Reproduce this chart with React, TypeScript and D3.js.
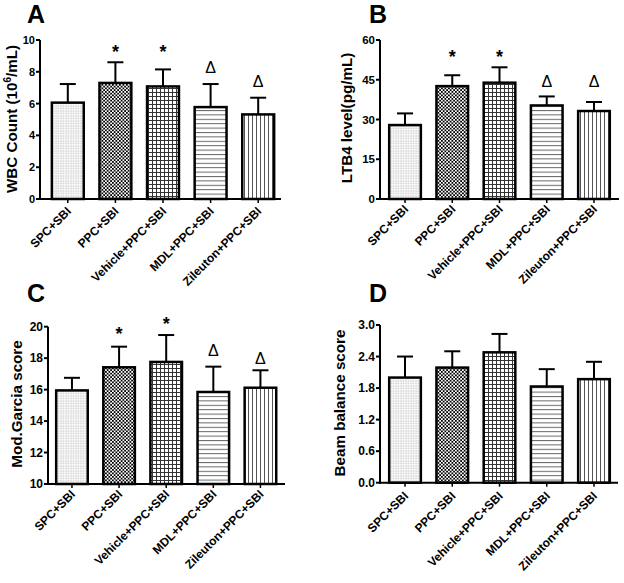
import React from "react";
import * as d3 from "d3";

const categories = ["SPC+SBI", "PPC+SBI", "Vehicle+PPC+SBI", "MDL+PPC+SBI", "Zileuton+PPC+SBI"];

const wbcMean = [6.06, 7.3, 7.08, 5.78, 5.32];
const wbcErr = [1.17, 1.3, 1.07, 1.45, 1.05];
const wbcTicks = [0, 2, 4, 6, 8, 10];
const wbcMarks = ["", "*", "*", "Δ", "Δ"];
const wbcMarkY = [0, 9.5, 9.5, 8.3, 7.4];

const ltb4Mean = [27.9, 42.6, 43.9, 35.3, 33.2];
const ltb4Err = [4.4, 4.1, 5.8, 3.4, 3.4];
const ltb4Ticks = [0, 15, 30, 45, 60];
const ltb4Marks = ["", "*", "*", "Δ", "Δ"];
const ltb4MarkY = [0, 55.1, 55.1, 44.2, 44.2];

const garciaMean = [15.95, 17.42, 17.76, 15.85, 16.12];
const garciaErr = [0.8, 1.31, 1.71, 1.61, 1.11];
const garciaTicks = [10, 12, 14, 16, 18, 20];
const garciaMarks = ["", "*", "*", "Δ", "Δ"];
const garciaMarkY = [0, 19.8, 20.4, 18.5, 17.95];

const beamMean = [2.0, 2.19, 2.48, 1.83, 1.97];
const beamErr = [0.4, 0.31, 0.35, 0.33, 0.33];
const beamTicks = [0, 0.6, 1.2, 1.8, 2.4, 3.0];
const beamMarks = ["", "", "", "", ""];
const beamMarkY = [0, 0, 0, 0, 0];

const patternIds = ["pDots", "pChecker", "pGrid", "pHoriz", "pVert"];
const FONT = "'Liberation Sans', Arial, sans-serif";

type PanelProps = {
  letter: string;
  letterX: number;
  letterY: number;
  x0: number;
  x1: number;
  bandStart: number;
  bandEnd: number;
  yTop: number;
  yBot: number;
  domain: [number, number];
  ticks: number[];
  tickFmt: (v: number) => string;
  tickSize: number;
  mean: number[];
  err: number[];
  marks: string[];
  markY: number[];
  title: React.ReactNode;
  titleX: number;
  titleY: number;
  labelDy: number;
};

function Panel(p: PanelProps) {
  const x = d3.scaleBand<string>().domain(categories).range([p.bandStart, p.bandEnd]).paddingInner(0.33).paddingOuter(0.165);
  const y = d3.scaleLinear().domain(p.domain).range([p.yBot, p.yTop]);
  const bw = x.bandwidth();
  return (
    <g>
      <text x={p.letterX} y={p.letterY} fontSize={25} fontWeight="bold" fontFamily={FONT}>{p.letter}</text>
      {categories.map((c, i) => {
        const bx = x(c)!;
        const cx = bx + bw / 2;
        const top = y(p.mean[i]);
        const et = y(p.mean[i] + p.err[i]);
        return (
          <g key={c}>
            <line x1={cx} x2={cx} y1={top} y2={et} stroke="#000" strokeWidth={2} />
            <line x1={cx - 8} x2={cx + 8} y1={et} y2={et} stroke="#000" strokeWidth={2} />
            <rect x={bx} y={top} width={bw} height={p.yBot - top} fill={`url(#${patternIds[i]})`} stroke="#000" strokeWidth={2.5} />
            {p.marks[i] === "*" && (
              <text x={cx} y={y(p.markY[i]) + 10} textAnchor="middle" fontSize={18} fontWeight="bold" fontFamily={FONT}>*</text>
            )}
            {p.marks[i] === "Δ" && (
              <text x={cx} y={y(p.markY[i]) + 5.5} textAnchor="middle" fontSize={16} fontFamily={FONT}>Δ</text>
            )}
          </g>
        );
      })}
      <line x1={p.x0} x2={p.x0} y1={p.yTop} y2={p.yBot + 1} stroke="#000" strokeWidth={2} />
      <line x1={p.x0 - 1} x2={p.x1} y1={p.yBot} y2={p.yBot} stroke="#000" strokeWidth={2} />
      {p.ticks.map((t) => (
        <g key={t}>
          <line x1={p.x0 - 4} x2={p.x0} y1={y(t)} y2={y(t)} stroke="#000" strokeWidth={2} />
          <text x={p.x0 - 5} y={y(t) + p.tickSize * 0.36} textAnchor="end" fontSize={p.tickSize} fontWeight="bold" fontFamily={FONT}>{p.tickFmt(t)}</text>
        </g>
      ))}
      {categories.map((c) => {
        const cx = x(c)! + bw / 2;
        return (
          <g key={c + "t"}>
            <line x1={cx} x2={cx} y1={p.yBot} y2={p.yBot + 4} stroke="#000" strokeWidth={1.5} />
            <text transform={`translate(${cx + 4},${p.yBot + p.labelDy}) rotate(-45)`} textAnchor="end" fontSize={12} fontWeight="bold" fontFamily={FONT}>{c}</text>
          </g>
        );
      })}
      <text transform={`translate(${p.titleX},${p.titleY}) rotate(-90)`} textAnchor="middle" fontSize={15.2} fontWeight="bold" fontFamily={FONT}>{p.title}</text>
    </g>
  );
}

export default function App() {
  const fmtInt = (v: number) => d3.format("d")(v);
  const fmt1 = (v: number) => d3.format(".1f")(v);
  return (
    <svg width={624} height={583} style={{ position: "absolute", left: 0, top: 0, background: "#fff" }}>
      <defs>
        <pattern id="pDots" patternUnits="userSpaceOnUse" width={2.5} height={2.5}>
          <rect width={2.5} height={2.5} fill="#f7f7f7" />
          <rect x={0.5} y={0.5} width={1} height={1} fill="#b0b0b0" />
        </pattern>
        <pattern id="pChecker" patternUnits="userSpaceOnUse" width={3.5} height={3.5}>
          <rect width={3.5} height={3.5} fill="#fff" />
          <rect x={0} y={0} width={1.75} height={1.75} fill="#000" />
          <rect x={1.75} y={1.75} width={1.75} height={1.75} fill="#000" />
        </pattern>
        <pattern id="pGrid" patternUnits="userSpaceOnUse" width={4} height={4}>
          <rect width={4} height={4} fill="#fff" />
          <line x1={0.5} x2={0.5} y1={0} y2={4} stroke="#333" strokeWidth={1} />
          <line x1={0} x2={4} y1={0.5} y2={0.5} stroke="#333" strokeWidth={1} />
        </pattern>
        <pattern id="pHoriz" patternUnits="userSpaceOnUse" width={4.4} height={4.4}>
          <rect width={4.4} height={4.4} fill="#fff" />
          <line x1={0} x2={4.4} y1={0.5} y2={0.5} stroke="#666" strokeWidth={1} />
        </pattern>
        <pattern id="pVert" patternUnits="userSpaceOnUse" width={4} height={4}>
          <rect width={4} height={4} fill="#fff" />
          <line x1={0.5} x2={0.5} y1={0} y2={4} stroke="#555" strokeWidth={1} />
        </pattern>
      </defs>
      <Panel letter="A" letterX={27} letterY={23} x0={40} x1={281} bandStart={44} bandEnd={282} yTop={40} yBot={199}
        domain={[0, 10]} ticks={wbcTicks} tickFmt={fmtInt} tickSize={11} mean={wbcMean} err={wbcErr} marks={wbcMarks} markY={wbcMarkY}
        title={<>WBC Count (10<tspan fontSize={10} dy={-6}>6</tspan><tspan dy={6}>/mL)</tspan></>} titleX={17} titleY={119} labelDy={13} />
      <Panel letter="B" letterX={369} letterY={23} x0={380} x1={619} bandStart={381.4} bandEnd={617.6} yTop={40} yBot={199}
        domain={[0, 60]} ticks={ltb4Ticks} tickFmt={fmtInt} tickSize={11.5} mean={ltb4Mean} err={ltb4Err} marks={ltb4Marks} markY={ltb4MarkY}
        title="LTB4 level(pg/mL)" titleX={352} titleY={118} labelDy={11} />
      <Panel letter="C" letterX={27} letterY={302} x0={48} x1={285} bandStart={48.4} bandEnd={284} yTop={326.7} yBot={484}
        domain={[10, 20]} ticks={garciaTicks} tickFmt={fmtInt} tickSize={12} mean={garciaMean} err={garciaErr} marks={garciaMarks} markY={garciaMarkY}
        title="Mod.Garcia score" titleX={22} titleY={404} labelDy={11} />
      <Panel letter="D" letterX={369} letterY={302} x0={380} x1={618} bandStart={381.4} bandEnd={617.6} yTop={325} yBot={482.7}
        domain={[0, 3]} ticks={beamTicks} tickFmt={fmt1} tickSize={12} mean={beamMean} err={beamErr} marks={beamMarks} markY={beamMarkY}
        title="Beam balance score" titleX={345} titleY={403} labelDy={14} />
    </svg>
  );
}
